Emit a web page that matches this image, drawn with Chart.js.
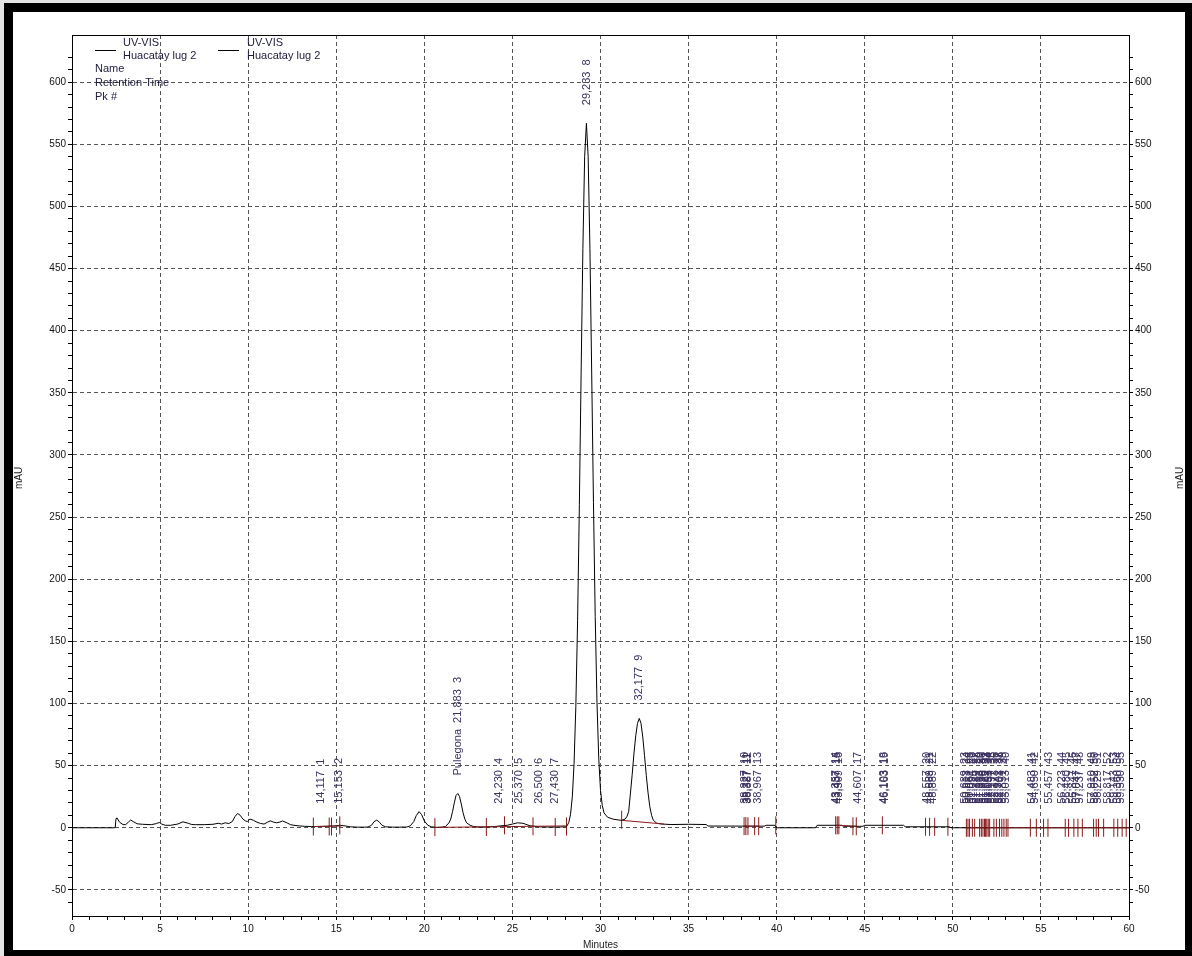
<!DOCTYPE html>
<html>
<head>
<meta charset="utf-8">
<title>UV-VIS Huacatay lug 2</title>
<script src="https://cdn.jsdelivr.net/npm/chart.js@4.4.0/dist/chart.umd.min.js"></script>
<style>
    html, body { margin: 0; padding: 0; overflow: hidden; background: #e4e4e4; }
    #frame { position: absolute; left: 4px; top: 3px; width: 1172px; height: 938px; border: 9px solid #000; background: #fff; }
    #wrap { position: absolute; left: 0; top: 0; width: 1192px; height: 956px; }
</style>
</head>
<body>
<div id="frame"></div>
<div id="wrap"><canvas id="chart"></canvas></div>
<script>
// Chromatogram trace (minutes, mAU)
const traceTime = [
    0, 2.45, 2.5, 2.55, 2.7, 2.9, 3.05, 3.2, 3.33, 3.5, 3.7, 4.0, 4.5, 4.8, 4.95, 5.1, 5.3, 5.6, 6.0, 6.3,
    6.6, 6.8, 7.0, 7.5, 8.0, 8.3, 8.5, 8.7, 8.9, 9.1, 9.25, 9.4, 9.55, 9.7, 9.85, 9.95, 10.1, 10.3, 10.5, 10.7,
    10.9, 11.1, 11.25, 11.45, 11.6, 11.8, 11.95, 12.2, 12.4, 12.6, 12.9, 13.2, 13.6, 14.0, 14.5, 14.9, 15.2, 15.5, 15.8, 16.2,
    16.6, 16.8, 17.0, 17.15, 17.3, 17.45, 17.6, 17.8, 18.2, 18.6, 19.0, 19.2, 19.4, 19.55, 19.7, 19.85, 20.0, 20.2, 20.4, 20.7,
    21.0, 21.2, 21.4, 21.5, 21.6, 21.7, 21.8, 21.9, 22.0, 22.1, 22.2, 22.3, 22.4, 22.6, 22.8, 23.0, 23.5, 24.0, 24.3, 24.7,
    25.0, 25.3, 25.6, 26.0, 26.5, 27.0, 27.5, 28.0, 28.1, 28.2, 28.3, 28.4, 28.5, 28.6, 28.7, 28.8, 28.9, 29.0, 29.1, 29.2,
    29.3, 29.4, 29.5, 29.6, 29.7, 29.8, 29.9, 30.0, 30.1, 30.2, 30.4, 30.7, 31.0, 31.2, 31.4, 31.5, 31.6, 31.7, 31.8, 31.9,
    32.0, 32.1, 32.2, 32.3, 32.4, 32.5, 32.6, 32.7, 32.8, 32.9, 33.0, 33.2, 33.5, 34.0, 35.0, 36.0, 36.1, 39.3, 39.4, 39.9,
    40.0, 42.2, 42.3, 43.7, 43.8, 44.9, 45.0, 47.2, 47.3, 49.8, 49.9, 60
];
const traceMAU = [
    0, 0, 7.5, 8, 4.5, 2.5, 2.6, 4.5, 6.2, 4.8, 3.2, 2.8, 2.5, 3.4, 4.3, 2.9, 2, 2, 3, 4.8,
    3.6, 2.6, 2.5, 2.5, 2.8, 3.6, 3, 4, 3.4, 5, 9, 11.5, 10, 7, 5.5, 5, 7, 6, 4.5, 3.5,
    3, 4.5, 5.6, 4.5, 4, 4.6, 5.5, 4, 2.5, 2, 1.5, 1.2, 1, 1, 1.2, 1.5, 2, 1.5, 0.8, 0.5,
    0.5, 0.6, 2, 5, 6.2, 4.5, 2, 0.8, 0.5, 0.5, 0.6, 1.5, 5, 10, 13, 10.5, 5.5, 2, 0.8, 0.3,
    0.5, 1, 4, 7, 13, 20, 26, 27.6, 25, 19, 12, 7, 4, 2, 1, 0.6, 0.6, 1, 1.5, 2,
    3, 4, 3.6, 1.6, 0.8, 0.6, 0.6, 0.8, 1.5, 4.3, 10.9, 24.9, 51.8, 97.7, 167, 260, 366, 466, 540, 567,
    540, 466, 366, 262, 170, 101, 56, 30, 18, 12, 8.5, 7, 6.3, 6, 7, 9, 13, 28, 43, 60,
    74, 84, 88, 84, 73, 58, 42, 28, 17, 10, 6, 3.6, 3, 2.6, 2.8, 2.6, 1.4, 1.3, 2, 2,
    0, 0, 2, 2, 1.2, 1.2, 2, 2, 0.8, 0.8, 0, 0
];

// Integration baselines (null breaks a segment)
const baselineTime = [13.7, 15.3, 15.3, 20.6, 28.07, 28.07, 31.2, 33.6, 33.6, 38.15, 39.0, 39.0, 43.35, 44.52, 44.52, 50.7, 60];
const baselineMAU  = [1, 1.5, null, 0.3, 1.5, null, 6, 3, null, 1.3, 1.3, null, 2, 1.3, null, 0, 0];

// Peak start / end marks
const markTime = [
    13.7, 14.6, 14.73, 15.2, 20.6, 23.52, 24.55, 26.17, 27.43, 28.07, 31.2, 38.15, 38.25, 38.37, 38.75, 38.98,
    39.95, 43.35, 43.44, 43.53, 44.33, 44.52, 46.0, 48.45, 48.68, 48.97, 49.72, 50.77, 50.86, 50.95, 51.11, 51.24,
    51.52, 51.62, 51.71, 51.8, 51.86, 51.93, 52.01, 52.09, 52.33, 52.47, 52.65, 52.78, 52.9, 53.03, 53.13, 54.4,
    54.74, 55.15, 55.4, 56.38, 56.57, 56.87, 57.1, 57.35, 57.99, 58.14, 58.27, 58.56, 59.14, 59.36, 59.61, 59.84
];
const markMAU = [
    1, 1, 1, 2, 0.5, 0.6, 2, 1.2, 0.6, 1, 6.5, 1.3, 1.3, 1.3, 1.3, 1.3,
    2, 2, 2, 2, 1.2, 1.2, 2, 0.8, 0.8, 0.8, 0.8, 0, 0, 0, 0, 0,
    0, 0, 0, 0, 0, 0, 0, 0, 0, 0, 0, 0, 0, 0, 0, 0,
    0, 0, 0, 0, 0, 0, 0, 0, 0, 0, 0, 0, 0, 0, 0, 0
];

// Peak labels: retention time, apex height, name
const peakTimes = [
    14.117, 15.153, 21.883, 24.230, 25.370, 26.500, 27.430, 29.233, 32.177, 38.227, 38.327, 38.387, 38.967,
    43.357, 43.437, 43.509, 44.607, 46.103, 46.163, 48.557, 48.689, 48.889,
    50.689, 50.813, 50.951, 51.094, 51.225, 51.389, 51.533, 51.659, 51.776, 51.862, 51.947, 52.053, 52.197,
    52.373, 52.541, 52.703, 52.851, 53.013, 54.483, 54.650, 55.457, 56.223, 56.480, 56.847, 57.047, 57.237,
    57.910, 58.052, 58.229, 58.817, 59.143, 59.360, 59.530
];
const peakHeights = [
    1, 2, 27.6, 1.5, 4, 1.6, 0.6, 567, 88, 1.3, 1.3, 1.3, 1.3,
    2, 2, 2, 1.2, 2, 2, 0.8, 0.8, 0.8,
    0, 0, 0, 0, 0, 0, 0, 0, 0, 0, 0, 0, 0,
    0, 0, 0, 0, 0, 0, 0, 0, 0, 0, 0, 0, 0,
    0, 0, 0, 0, 0, 0, 0
];
const peakNames = { 2: 'Pulegona' };

// Axis ranges and legend text
const xMin = 0, xMax = 60;
const yMin = -71, yMax = 638;
const legendItems = ['UV-VIS', 'Huacatay lug 2'];
const legendRows = ['Name', 'Retention Time', 'Pk #'];

const FONT = '"Liberation Sans", Arial, sans-serif';
const MARK_RED = '#8b1a1a';

const isMajor = (v, step) => Math.abs(v / step - Math.round(v / step)) < 1e-6;

// Frame, legend, titles and peak labels
const chromDecor = {
    id: 'chromDecor',
    afterDatasetsDraw(chart) {
        const { ctx, chartArea, scales: { x, y } } = chart;
        ctx.save();

        // top edge of the plot box
        ctx.strokeStyle = '#000';
        ctx.lineWidth = 1;
        ctx.beginPath();
        ctx.moveTo(chartArea.left, chartArea.top + 0.5);
        ctx.lineTo(chartArea.right, chartArea.top + 0.5);
        ctx.stroke();

        // legend
        ctx.font = '11px ' + FONT;
        ctx.fillStyle = '#1c1c3a';
        ctx.textAlign = 'left';
        ctx.textBaseline = 'middle';
        [[95, 123], [218, 247]].forEach(([lx, tx]) => {
            ctx.beginPath();
            ctx.moveTo(lx, 50.5);
            ctx.lineTo(lx + 21, 50.5);
            ctx.stroke();
            ctx.fillText(legendItems[0], tx, 43);
            ctx.fillText(legendItems[1], tx, 56);
        });
        legendRows.forEach((r, i) => ctx.fillText(r, 95, 69 + i * 14));

        // axis titles
        ctx.font = '10px ' + FONT;
        ctx.fillStyle = '#222';
        ctx.textAlign = 'center';
        ctx.fillText('Minutes', (chartArea.left + chartArea.right) / 2, 945);
        [19, 1180].forEach(tx => {
            ctx.save();
            ctx.translate(tx, 478);
            ctx.rotate(-Math.PI / 2);
            ctx.fillText('mAU', 0, 0);
            ctx.restore();
        });

        // peak labels
        ctx.font = '11px ' + FONT;
        ctx.fillStyle = '#3b3060';
        ctx.textAlign = 'left';
        const lowest = y.getPixelForValue(0) - 24;
        peakTimes.forEach((t, i) => {
            const px = x.getPixelForValue(t);
            const py = Math.min(y.getPixelForValue(peakHeights[i]) - 18, lowest);
            let text = t.toFixed(3).replace('.', ',') + '  ' + (i + 1);
            if (peakNames[i]) text = peakNames[i] + '  ' + text;
            ctx.save();
            ctx.translate(px, py);
            ctx.rotate(-Math.PI / 2);
            ctx.fillText(text, 0, 0);
            ctx.restore();
        });

        ctx.restore();
    }
};

const tickFont = { family: FONT, size: 10 };

function yAxis(position, onArea) {
    return {
        type: 'linear',
        position: position,
        min: yMin,
        max: yMax,
        afterFit: s => { s.width = position === 'left' ? 72 : 63; },
        afterBuildTicks: s => {
            s.ticks = s.ticks.filter(t => t.value >= -70 && t.value <= 630);
        },
        ticks: {
            stepSize: 10,
            autoSkip: false,
            padding: 2,
            color: '#111',
            font: tickFont,
            callback: v => isMajor(v, 50) ? v : ''
        },
        grid: {
            drawOnChartArea: onArea,
            color: c => isMajor(c.tick.value, 50) ? '#555' : 'transparent',
            lineWidth: 1,
            tickLength: 4,
            tickColor: '#000'
        },
        border: { color: '#000', width: 1, dash: [4, 3] }
    };
}

new Chart(document.getElementById('chart'), {
    type: 'line',
    data: {
        datasets: [
            {
                label: 'baseline',
                data: baselineTime.map((t, i) => ({ x: t, y: baselineMAU[i] })),
                borderColor: MARK_RED,
                borderWidth: 1,
                pointRadius: 0,
                spanGaps: false
            },
            {
                label: 'UV-VIS Huacatay lug 2',
                data: traceTime.map((t, i) => ({ x: t, y: traceMAU[i] })),
                borderColor: '#000',
                borderWidth: 1,
                pointRadius: 0
            },
            {
                label: 'marks',
                data: markTime.map((t, i) => ({ x: t, y: markMAU[i] })),
                showLine: false,
                pointStyle: 'line',
                rotation: 90,
                pointRadius: 9,
                pointBorderColor: MARK_RED,
                borderColor: MARK_RED,
                pointBorderWidth: 1
            }
        ]
    },
    options: {
        responsive: true,
        maintainAspectRatio: false,
        animation: false,
        events: [],
        layout: { padding: { top: 35, left: 0, right: 0, bottom: 0 } },
        plugins: {
            legend: { display: false },
            tooltip: { enabled: false }
        },
        scales: {
            x: {
                type: 'linear',
                min: xMin,
                max: xMax,
                afterFit: s => { s.height = 40; },
                ticks: {
                    stepSize: 1,
                    autoSkip: false,
                    maxRotation: 0,
                    padding: 3,
                    color: '#111',
                    font: tickFont,
                    callback: v => isMajor(v, 5) ? v : ''
                },
                grid: {
                    color: c => (isMajor(c.tick.value, 5) && c.tick.value > xMin && c.tick.value < xMax) ? '#555' : 'transparent',
                    lineWidth: 1,
                    tickLength: 4,
                    tickColor: '#000'
                },
                border: { color: '#000', width: 1, dash: [4, 3] }
            },
            y: yAxis('left', true),
            y2: yAxis('right', false)
        }
    },
    plugins: [chromDecor]
});
</script>
</body>
</html>
